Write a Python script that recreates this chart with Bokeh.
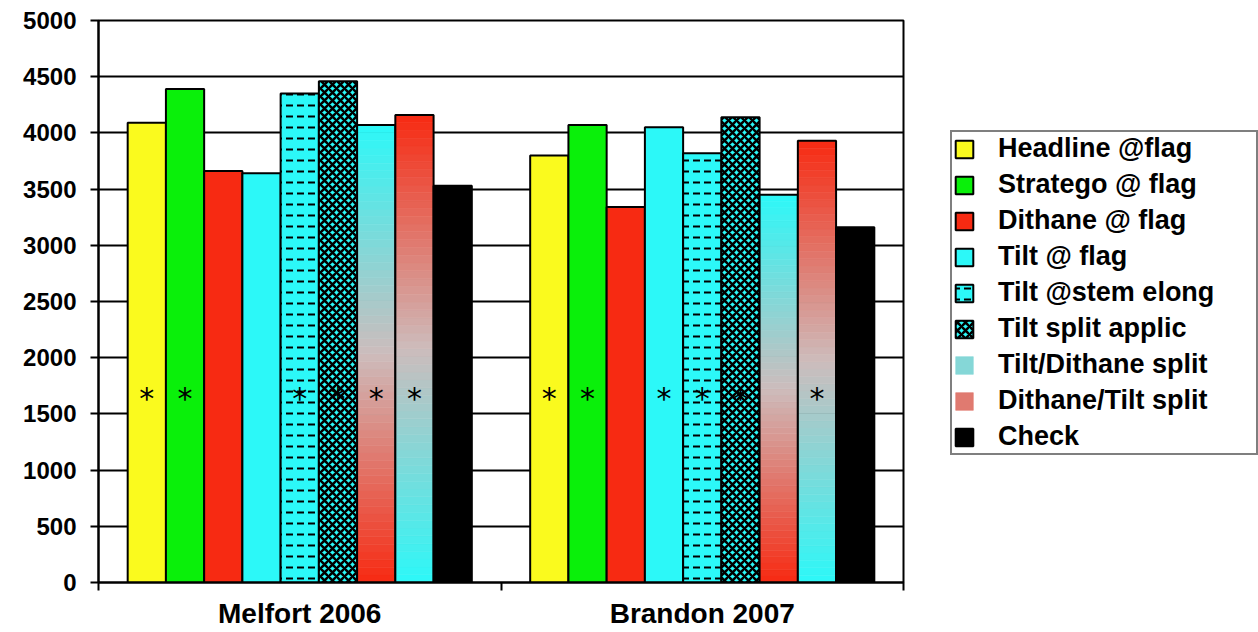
from bokeh.plotting import figure
from bokeh.models import (ColumnDataSource, Range1d, LinearAxis,
                          FixedTicker, Legend, LegendItem)
from bokeh.transform import dodge
from bokeh.core.properties import value
from bokeh.embed import file_html
from bokeh.resources import INLINE

# ---------------- data ----------------
sites = ["Melfort 2006", "Brandon 2007"]
series = ["Headline @flag", "Stratego @ flag", "Dithane @ flag", "Tilt @ flag",
          "Tilt @stem elong", "Tilt split applic", "Tilt/Dithane split",
          "Dithane/Tilt split", "Check"]
headline = [4090, 3800]
stratego = [4390, 4070]
dithane = [3660, 3340]
tilt_flag = [3640, 4050]
tilt_stem = [4350, 3820]
tilt_split = [4460, 4140]
tilt_dithane = [4070, 3450]
dithane_tilt = [4160, 3930]
check = [3530, 3160]
y_ticks = [0, 500, 1000, 1500, 2000, 2500, 3000, 3500, 4000, 4500, 5000]
# significance markers (*) per site
signif_melfort = ["Headline @flag", "Stratego @ flag", "Tilt @stem elong",
                  "Tilt split applic", "Tilt/Dithane split", "Dithane/Tilt split"]
signif_brandon = ["Headline @flag", "Stratego @ flag", "Tilt @ flag",
                  "Tilt @stem elong", "Tilt split applic", "Dithane/Tilt split"]

values = [headline, stratego, dithane, tilt_flag, tilt_stem, tilt_split,
          tilt_dithane, dithane_tilt, check]

# category slots on a numeric axis: site i occupies [i, i+1]
site_pos = [i + 0.5 for i in range(len(sites))]
site_edges = list(range(len(sites) + 1))

# ---------------- styling ----------------
FONT = "Liberation Sans"
YELLOW = "#fafa1e"
GREEN = "#0af00a"
RED = "#f72a12"
CYAN = "#2cf8f8"
MID = "#cdbcbc"
BLACK = "#000000"
styles = [
    dict(fill_color=YELLOW),
    dict(fill_color=GREEN),
    dict(fill_color=RED),
    dict(fill_color=CYAN),
    dict(fill_color=CYAN, hatch_pattern="horizontal_dash", hatch_color=BLACK,
         hatch_scale=11, hatch_weight=2),
    dict(fill_color=CYAN, hatch_pattern="diagonal_cross", hatch_color=BLACK,
         hatch_scale=8, hatch_weight=2.5),
    "grad_cyan_top",
    "grad_red_top",
    dict(fill_color=BLACK),
]
BAR_W = 0.095
STAR_Y = 1640
N_SLICES = 60


def hexc(c):
    return tuple(int(c[i:i + 2], 16) for i in (1, 3, 5))


def mix(c1, c2, t):
    a, b = hexc(c1), hexc(c2)
    return "#%02x%02x%02x" % tuple(int(round(a[i] + (b[i] - a[i]) * t)) for i in range(3))


def grad(bot_c, top_c, t):
    # three-stop vertical gradient: bottom colour -> light grey -> top colour
    if t < 0.5:
        return mix(bot_c, MID, t / 0.5)
    return mix(MID, top_c, (t - 0.5) / 0.5)


p = figure(x_range=Range1d(0, len(sites)),
           y_range=Range1d(0, 5000),
           frame_width=805, frame_height=562,
           min_border_left=98, min_border_right=355, min_border_top=20,
           min_border_bottom=50,
           x_axis_location=None,
           output_backend="svg", toolbar_location=None,
           background_fill_color="white", border_fill_color="white")

p.outline_line_color = BLACK
p.outline_line_width = 2
p.outline_line_alpha = 1

# y axis
ya = p.yaxis[0]
ya.ticker = FixedTicker(ticks=y_ticks)
ya.axis_line_width = 2
ya.axis_line_color = BLACK
ya.major_tick_line_width = 2
ya.major_tick_line_color = BLACK
ya.major_tick_out = 8
ya.major_tick_in = 0
ya.minor_tick_line_color = None
ya.major_label_text_font = FONT
ya.major_label_text_font_style = "bold"
ya.major_label_text_font_size = "24px"
ya.major_label_text_color = BLACK
ya.major_label_standoff = 14

p.ygrid.ticker = FixedTicker(ticks=y_ticks)
p.ygrid.grid_line_color = BLACK
p.ygrid.grid_line_width = 2
p.xgrid.visible = False

# x axis: labels at category centres, tick marks at category boundaries
x_axis = LinearAxis(ticker=FixedTicker(ticks=site_pos, minor_ticks=site_edges),
                    major_label_overrides={pos: s for pos, s in zip(site_pos, sites)},
                    axis_line_width=2, axis_line_color=BLACK,
                    major_tick_line_color=None, major_tick_out=0, major_tick_in=0,
                    minor_tick_line_color=BLACK, minor_tick_line_width=2,
                    minor_tick_out=8, minor_tick_in=0,
                    major_label_text_font=FONT,
                    major_label_text_font_style="bold",
                    major_label_text_font_size="28px",
                    major_label_text_color=BLACK,
                    major_label_standoff=7)
p.add_layout(x_axis, "below")

legend_items = []
n = len(series)
for i, (name, vals, st) in enumerate(zip(series, values, styles)):
    off = (i - (n - 1) / 2) * BAR_W
    src = ColumnDataSource(dict(pos=site_pos, top=vals))
    if isinstance(st, dict):
        r = p.vbar(x=dodge("pos", off), top="top", width=BAR_W,
                   source=src, line_color=BLACK, line_width=2, **st)
        legend_items.append(LegendItem(label=name, renderers=[r]))
    else:
        top_c, bot_c = (CYAN, RED) if st == "grad_cyan_top" else (RED, CYAN)
        xs, bots, tops, cols = [], [], [], []
        for s, v in zip(site_pos, vals):
            for k in range(N_SLICES):
                xs.append(s)
                bots.append(v * k / N_SLICES)
                tops.append(v * (k + 1) / N_SLICES)
                cols.append(grad(bot_c, top_c, (k + 0.5) / N_SLICES))
        gsrc = ColumnDataSource(dict(pos=xs, bottom=bots, top=tops, color=cols))
        rg = p.vbar(x=dodge("pos", off), bottom="bottom", top="top",
                    width=BAR_W, source=gsrc, fill_color="color", line_color="color",
                    line_width=0.6)
        p.vbar(x=dodge("pos", off), top="top", width=BAR_W,
               source=src, fill_color=None, line_color=BLACK, line_width=2)
        legend_items.append(LegendItem(label=name, renderers=[rg],
                                       index=int(N_SLICES * 0.72)))

    # significance asterisks
    star_pos = [s for s, lst in zip(site_pos, [signif_melfort, signif_brandon]) if name in lst]
    if star_pos:
        ssrc = ColumnDataSource(dict(pos=star_pos, y=[STAR_Y] * len(star_pos),
                                     t=["*"] * len(star_pos)))
        p.text(x=dodge("pos", off), y="y", text="t", source=ssrc,
               text_font=value("DejaVu Sans"), text_font_size="30px",
               text_align="center", text_baseline="middle", text_color=BLACK)

legend = Legend(items=legend_items, location=(47, 127),
                label_text_font=FONT, label_text_font_style="bold",
                label_text_font_size="27px", label_text_color=BLACK,
                glyph_width=22, glyph_height=22, label_standoff=23,
                label_height=31, label_width=257, spacing=5, padding=1, margin=0,
                border_line_color=BLACK, border_line_width=2,
                background_fill_color="white", background_fill_alpha=1)
p.add_layout(legend, "right")

open("out.html", "w").write(file_html(p, INLINE))
